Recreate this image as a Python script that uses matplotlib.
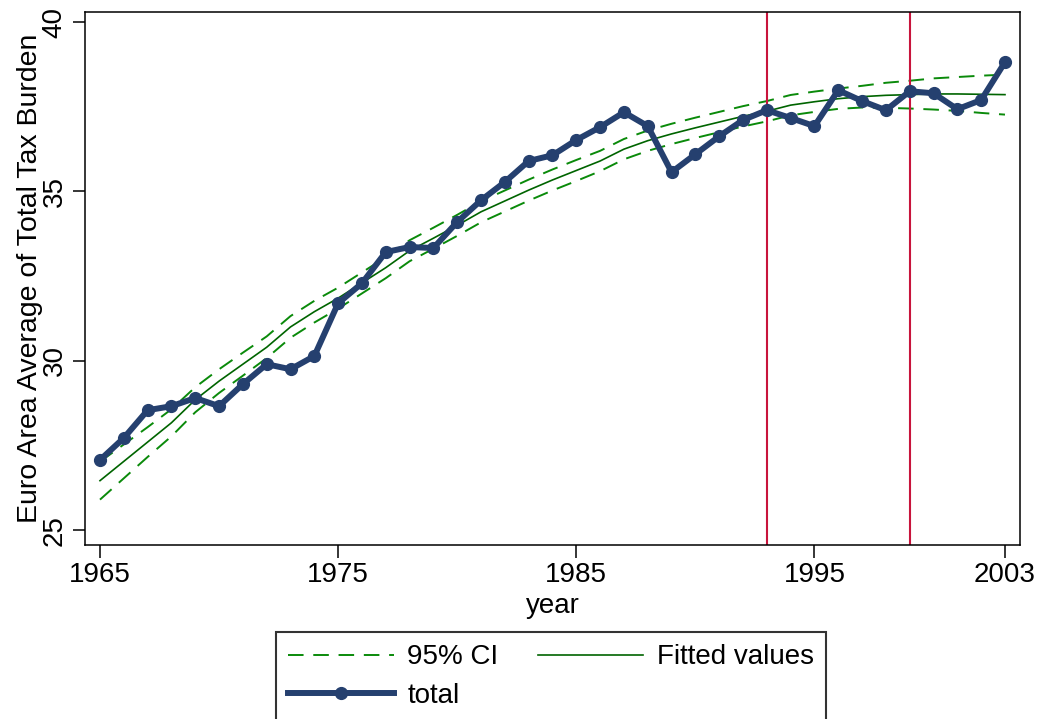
import matplotlib.pyplot as plt

plt.rcParams['font.family'] = ['Liberation Sans', 'DejaVu Sans']

# values
year = list(range(1965, 2004))
total = [27.07, 27.72, 28.54, 28.66, 28.90, 28.66, 29.31, 29.90, 29.75, 30.14,
         31.70, 32.29, 33.21, 33.36, 33.33, 34.10, 34.74, 35.28, 35.90, 36.07,
         36.52, 36.90, 37.34, 36.93, 35.57, 36.10, 36.63, 37.11, 37.40, 37.17,
         36.93, 37.99, 37.67, 37.40, 37.96, 37.90, 37.43, 37.70, 38.82]
fitted = [26.46, 27.03, 27.60, 28.17, 28.85, 29.40, 29.90, 30.40, 31.00, 31.45,
          31.85, 32.30, 32.75, 33.25, 33.62, 34.00, 34.40, 34.72, 35.04, 35.34,
          35.62, 35.90, 36.25, 36.50, 36.70, 36.88, 37.05, 37.22, 37.37, 37.55,
          37.65, 37.74, 37.80, 37.84, 37.86, 37.88, 37.88, 37.87, 37.86]
ci_low = [25.90, 26.53, 27.16, 27.77, 28.48, 29.05, 29.56, 30.08, 30.68, 31.13,
          31.54, 31.99, 32.44, 32.94, 33.31, 33.69, 34.09, 34.41, 34.73, 35.03,
          35.31, 35.60, 35.95, 36.20, 36.40, 36.58, 36.75, 36.92, 37.07, 37.25,
          37.35, 37.44, 37.48, 37.47, 37.45, 37.42, 37.38, 37.32, 37.27]
ci_high = [27.02, 27.53, 28.04, 28.57, 29.22, 29.75, 30.24, 30.72, 31.32, 31.77,
           32.16, 32.61, 33.06, 33.56, 33.93, 34.31, 34.71, 35.03, 35.35, 35.65,
           35.93, 36.20, 36.55, 36.80, 37.00, 37.18, 37.35, 37.52, 37.67, 37.85,
           37.95, 38.04, 38.12, 38.21, 38.27, 38.34, 38.38, 38.42, 38.45]
breaks = [1993, 1999]
xticks = [1965, 1975, 1985, 1995, 2003]
yticks = [25, 30, 35, 40]

navy = '#25406f'
ci_col = '#0a8a0a'
fit_col = '#006400'
red = '#c8143c'

fig = plt.figure(figsize=(10.39, 7.19), dpi=100)
ax = fig.add_axes([0.0818, 0.242, 0.8999, 0.7413])

ci, = ax.plot(year, ci_low, color=ci_col, lw=1.4, dashes=(8, 5), label='95% CI')
ax.plot(year, ci_high, color=ci_col, lw=1.4, dashes=(8, 5))
fit, = ax.plot(year, fitted, color=fit_col, lw=1.2, label='Fitted values')
for b in breaks:
    ax.axvline(b, color=red, lw=1.5, zorder=2)
tot, = ax.plot(year, total, color=navy, lw=4.3, marker='o', ms=8.5,
               label='total', zorder=3)

ax.set_xlim(1964.37, 2003.63)
ax.set_ylim(24.56, 40.3)
ax.set_xticks(xticks)
ax.set_yticks(yticks)
ax.tick_params(labelsize=20, length=9, width=1.1, direction='out')
for lbl in ax.get_yticklabels():
    lbl.set_rotation(90)
    lbl.set_va('center')
for s in ax.spines.values():
    s.set_linewidth(1.1)
ax.set_ylabel('Euro Area Average of Total Tax Burden', fontsize=20.5, labelpad=-1)
ax.set_xlabel('year', fontsize=20, labelpad=3)

leg = fig.legend([ci, tot, fit], ['95% CI', 'total', 'Fitted values'],
                 loc='upper center', bbox_to_anchor=(551 / 1039, 1 - 632 / 719),
                 ncol=2, fontsize=20, frameon=True, fancybox=False,
                 edgecolor='black', handlelength=3.8, columnspacing=1.4,
                 handletextpad=0.5, labelspacing=0.45, borderpad=0.45,
                 borderaxespad=0)
leg.get_frame().set_linewidth(1.5)

fig.savefig('out.png', dpi=100)
plt.close()
